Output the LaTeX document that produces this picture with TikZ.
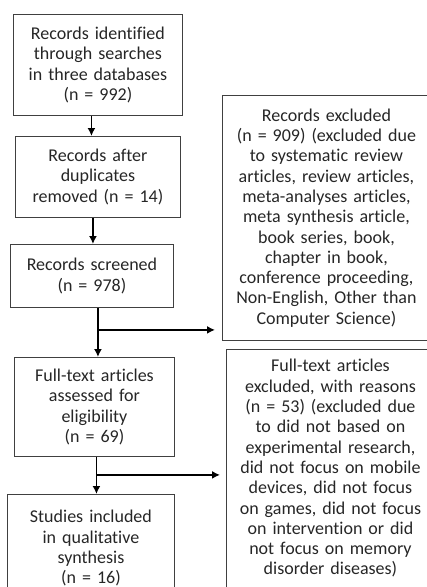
\documentclass[tikz,border=0pt]{standalone}
\usepackage{fontspec}
\setmainfont[Ligatures=NoCommon]{Carlito}
\usetikzlibrary{arrows.meta,calc}

\begin{document}
\begin{tikzpicture}[
            x = 1pt, y = -1pt, % pixel-like units, y going down
            > = {Latex[length=8pt,width=8pt]}, % arrow head style
            box/.style = {draw=black!75, line width=0.9pt, text=black!85,
              align=center, anchor=north west, inner xsep=0pt, inner ysep=0pt,
              font=\fontsize{18}{20.3}\selectfont},
            flow/.style = {->, line width=1.8pt, black}
        ]

	\useasboundingbox (0,0) rectangle (427,587);
	\clip (0,0) rectangle (427,587);

	% main column
	\node[box, minimum width=169pt, minimum height=101pt, text width=167pt] (found) at (13,14)
		{Records identified\\through searches\\in three databases\\(n = 992)};
	\node[box, minimum width=165pt, minimum height=81pt, text width=163pt] (dedup) at (15,136)
		{Records after\\duplicates\\removed (n = 14)};
	\node[box, minimum width=163pt, minimum height=63pt, text width=161pt] (screen) at (10,244)
		{Records screened\\(n = 978)};
	\node[box, minimum width=160pt, minimum height=99pt, text width=158pt] (assess) at (14,357)
		{Full-text articles\\assessed for\\eligibility\\(n = 69)};
	\node[box, minimum width=167pt, text width=165pt, inner ysep=16pt, text depth=110pt] (incl) at (7,494)
		{Studies included\\in qualitative\\synthesis\\(n = 16)};

	% exclusion boxes
	\node[box, minimum width=208pt, minimum height=245pt, text width=206pt] (excl) at (222,95)
		{Records excluded\\(n = 909) (excluded due\\to systematic review\\articles, review articles,\\meta-analyses articles,\\meta synthesis article,\\book series, book,\\chapter in book,\\conference proceeding,\\Non-English, Other than\\Computer Science)};
	\node[box, minimum width=208pt, text width=206pt, inner ysep=10pt, text depth=240pt] (ftx) at (226,349)
		{Full-text articles\\excluded, with reasons\\(n = 53) (excluded due\\to did not based on\\experimental research,\\did not focus on mobile\\devices, did not focus\\on games, did not focus\\on intervention or did\\not focus on memory\\disorder diseases)};

	% connectors
	\draw[flow] ([xshift=-6.5pt]found.south) -- ([xshift=-6.5pt]found.south |- dedup.north);
	\draw[flow] ([xshift=-5pt]dedup.south) -- ([xshift=-5pt]dedup.south |- screen.north);
	\draw[flow] ([xshift=6pt]screen.south) -- ([xshift=6pt]screen.south |- assess.north);
	\draw[flow] ([xshift=2pt]assess.south) -- ([xshift=2pt]assess.south |- incl.north);

	\coordinate (cut1) at ($(screen.south)+(6,22)$);
	\coordinate (cut2) at ($(assess.south)+(2,18)$);
	\draw[flow, shorten >=7pt] (cut1) -- (cut1 -| excl.west);
	\draw[flow, shorten >=6pt] (cut2) -- (cut2 -| ftx.west);
\end{tikzpicture}
\end{document}
